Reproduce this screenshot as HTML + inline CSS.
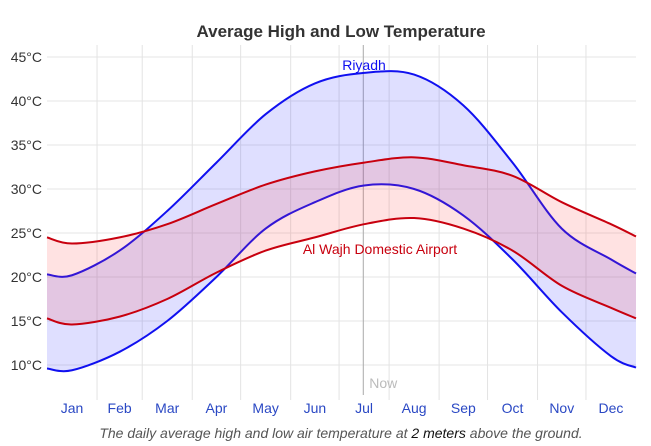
<!DOCTYPE html>
<html><head><meta charset="utf-8"><style>
body{margin:0;background:#fff;width:651px;height:446px;overflow:hidden;font-family:"Liberation Sans",sans-serif}
svg{display:block}
</style></head><body>
<svg width="651" height="446">
<text x="341" y="37" text-anchor="middle" font-size="17" font-weight="bold" fill="#333">Average High and Low Temperature</text>
<g id="grid"></g>
<g id="series"></g>
<g id="labels"></g>
<text x="341" y="438" text-anchor="middle" font-size="14" font-style="italic" fill="#555">The daily average high and low air temperature at <tspan fill="#111">2 meters</tspan> above the ground.</text>
</svg>
<script>
const months=["Jan","Feb","Mar","Apr","May","Jun","Jul","Aug","Sep","Oct","Nov","Dec"];
const monthDays=[31,28,31,30,31,30,31,31,30,31,30,31];
const yTicks=[10,15,20,25,30,35,40,45];
const riyadhHigh=[20.3,20.2,23,27.5,33,38.5,42,43.2,43,39.5,33,25.5,22,20.4];
const riyadhLow=[9.6,9.4,11.5,15,20,25.5,28.5,30.4,30,27,22,16,11,9.7];
const wajhHigh=[24.5,23.8,24.5,26,28.3,30.5,32,33,33.6,32.7,31.5,28.5,26,24.6];
const wajhLow=[15.3,14.6,15.5,17.5,20.5,23,24.5,26,26.7,25.5,23,19,16.5,15.3];
const nowDay=196;
const X0=47,X1=636,Y45=57,Y10=365;
const x=d=>X0+(X1-X0)*d/365;
const y=v=>Y10-(v-10)*(Y10-Y45)/35;
const ns="http://www.w3.org/2000/svg";
function mk(t,a,p){const e=document.createElementNS(ns,t);for(const k in a)e.setAttribute(k,a[k]);p.appendChild(e);return e;}
const grid=document.getElementById('grid'),ser=document.getElementById('series'),lab=document.getElementById('labels');
let starts=[0];monthDays.forEach((d,i)=>starts.push(starts[i]+d));
const centers=months.map((m,i)=>starts[i]+monthDays[i]/2);
const dayPts=[0,...centers,365];
yTicks.forEach(t=>{
 const l=mk('line',{x1:X0,x2:X1,y1:y(t),y2:y(t),stroke:'#e6e6e6'},grid);
 
 
 const tx=mk('text',{x:42,y:y(t)+5,'text-anchor':'end','font-size':14,fill:'#333'},lab);
 tx.textContent=t+'°C';
 
 
});
for(let i=1;i<12;i++){
 const l=mk('line',{x1:x(starts[i]),x2:x(starts[i]),y1:45,y2:400,stroke:'#e3e3e3'},grid);
 
 
}
months.forEach((m,i)=>{
 const tx=mk('text',{x:x(centers[i]),y:413,'text-anchor':'middle','font-size':14,fill:'#2a48c4'},lab);
 tx.textContent=m;
 
 
});
function pts(vals){return vals.map((v,i)=>[x(dayPts[i]),y(v)]);}
function curve(p){let d='';for(let i=0;i<p.length-1;i++){const p0=p[i-1]||p[i],p1=p[i],p2=p[i+1],p3=p[i+2]||p2;
 const c1=[p1[0]+(p2[0]-p0[0])/6,p1[1]+(p2[1]-p0[1])/6],c2=[p2[0]-(p3[0]-p1[0])/6,p2[1]-(p3[1]-p1[1])/6];
 d+=(i?'':'M'+p1[0]+','+p1[1])+' C'+c1+' '+c2+' '+p2;}return d;}
function band(hi,lo,fill,stroke,name){
 const ph=pts(hi),pl=pts(lo);
 const rl=pl.slice().reverse();
 const a=mk('path',{d:curve(ph)+' L'+rl[0]+curve(rl).slice(1).replace(/^[^C]*/,' ')+'Z',fill:fill,stroke:'none'},ser);
 
 
 const h=mk('path',{d:curve(ph),fill:'none',stroke:stroke,'stroke-width':2},ser);
 
 
 const l=mk('path',{d:curve(pl),fill:'none',stroke:stroke,'stroke-width':2},ser);
 
 
}
band(riyadhHigh,riyadhLow,'rgba(40,40,255,0.15)','#1010f0','riyadh');
band(wajhHigh,wajhLow,'rgba(255,60,60,0.15)','#c8000e','al-wajh');
const nl=mk('line',{x1:x(nowDay),x2:x(nowDay),y1:45,y2:395,stroke:'#aaa'},grid);


const nt=mk('text',{x:x(nowDay)+20,y:388,'text-anchor':'middle','font-size':14,fill:'#bbb'},lab);
nt.textContent='Now';


const r=mk('text',{x:364,y:70,'text-anchor':'middle','font-size':14,fill:'#1010f0'},lab);
r.textContent='Riyadh';


const w=mk('text',{x:380,y:254,'text-anchor':'middle','font-size':14,fill:'#c8000e'},lab);
w.textContent='Al Wajh Domestic Airport';


</script>
</body></html>
